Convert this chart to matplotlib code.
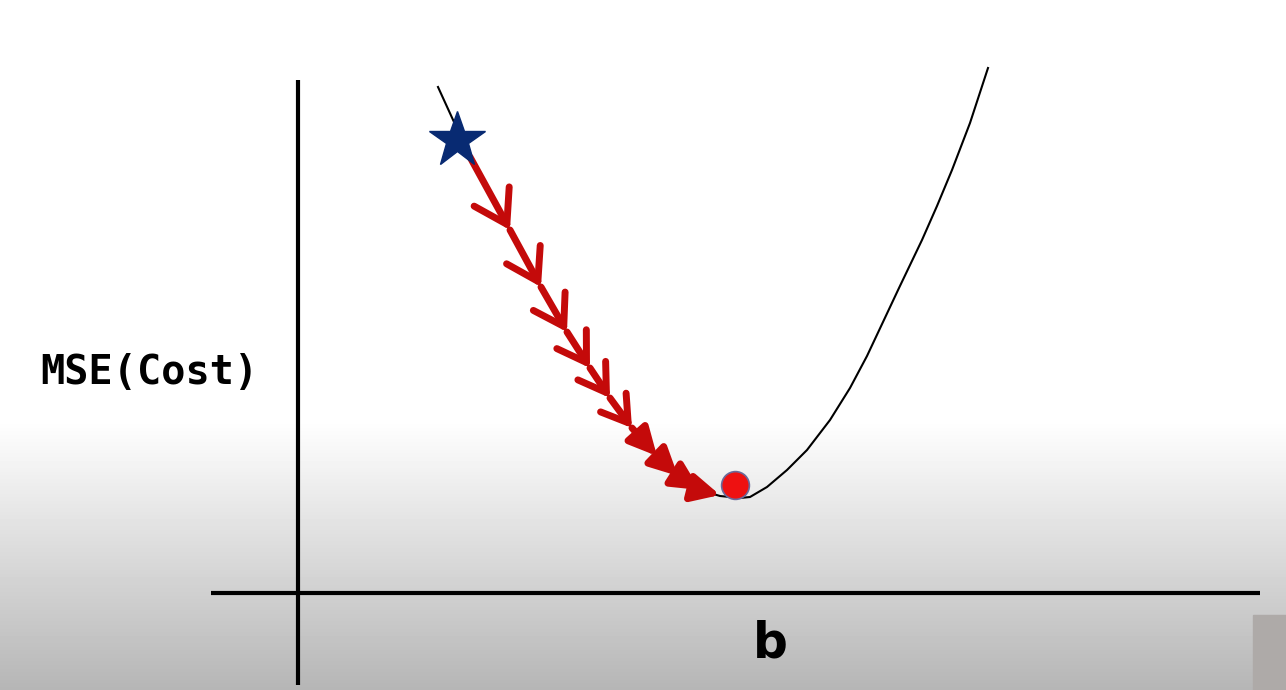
#Gradient descent sketch: cost curve with steps walking down to the minimum
import matplotlib.pyplot as plt
import numpy as np
from matplotlib.patches import FancyArrowPatch, Rectangle

#cost curve (pixel coordinates)
curve_x = [438, 470, 510, 541, 567, 590, 610, 632, 657, 678, 700, 720,
           740, 750, 767, 787, 807, 830, 850, 867, 883, 899, 922,
           937, 952, 970, 988]
curve_y = [87, 157, 230, 287, 332, 368, 398, 428, 456, 476, 490, 496,
           498, 497, 487, 470, 450, 420, 388, 356, 322, 288, 240,
           206, 170, 123, 68]

#start point (star), then the tips of each step arrow
step_x = [470, 510, 541, 567, 590, 610, 632, 657, 678, 700, 720]
step_y = [157, 230, 287, 332, 368, 398, 428, 456, 476, 490, 495]
open_heads = 6   # first steps have open chevron heads, the rest are filled

star = (457, 140)
ball = (735, 485)

axis_label_y = "MSE(Cost)"
axis_label_x = "b"

fig = plt.figure(figsize=(12.86, 6.90), dpi=100)
ax = fig.add_axes([0, 0, 1, 1])
ax.set_xlim(0, 1286)
ax.set_ylim(690, 0)
ax.axis('off')

#grey fade at the bottom of the slide
rows = np.arange(690)
shade = np.clip(1 - (rows - 420) * 0.00107, 0, 1)
ax.imshow(np.repeat(shade[:, None], 2, axis=1), cmap='gray', vmin=0, vmax=1,
          extent=[0, 1286, 690, 0], aspect='auto', zorder=0)
#blurry corner thing in the bottom right of the screenshot
ax.add_patch(Rectangle((1253, 615), 40, 80, color='#aeaaa8', zorder=1))

#axes drawn by hand
ax.plot([298, 298], [80, 685], color='black', lw=3, solid_capstyle='butt')
ax.plot([211, 1260], [593, 593], color='black', lw=3, solid_capstyle='butt')

#the cost curve
ax.plot(curve_x, curve_y, color='black', lw=1.5, zorder=2,
        solid_joinstyle='round')

#step arrows
red = '#c40a0a'
for i in range(1, len(step_x)):
    if i <= open_heads:
        style = '->,head_length=0.95,head_width=0.6'
        scale = 25 - i
    else:
        style = '-|>,head_length=1.1,head_width=0.55'
        scale = 15
    arr = FancyArrowPatch((step_x[i-1], step_y[i-1]), (step_x[i], step_y[i]),
                          arrowstyle=style, mutation_scale=scale, color=red,
                          lw=5, shrinkA=0, shrinkB=0, capstyle='round',
                          joinstyle='round', zorder=3)
    ax.add_patch(arr)

ax.plot(*star, marker='*', markersize=42, color='#082a72', zorder=4)
ax.plot(*ball, marker='o', markersize=20, color='#ee1111',
        markeredgecolor='#6a6a9a', markeredgewidth=1.2, zorder=4)

ax.text(149, 373, axis_label_y, fontsize=29, fontweight='bold',
        family='DejaVu Sans Mono', ha='center', va='center')
ax.text(770, 643, axis_label_x, fontsize=35, fontweight='bold',
        ha='center', va='center')

plt.savefig('out.png', dpi=100)
